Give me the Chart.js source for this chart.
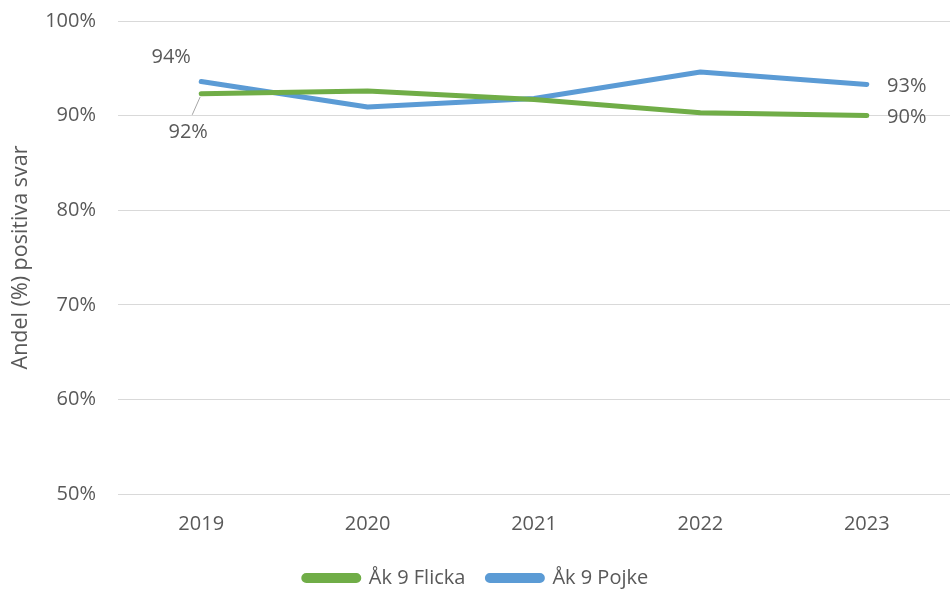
<!DOCTYPE html>
<html lang="sv">
<head>
<meta charset="UTF-8">
<title>Andel positiva svar</title>
<style>
html, body { margin: 0; padding: 0; background: #fff; }
#wrap { width: 950px; height: 589px; }
</style>
</head>
<body>
<div id="wrap"><canvas id="chart" width="950" height="589"></canvas></div>
<script src="https://cdn.jsdelivr.net/npm/chart.js@4.4.1/dist/chart.umd.min.js"></script>
<script>
const years = ['2019', '2020', '2021', '2022', '2023'];
const flicka = [92.3, 92.6, 91.7, 90.3, 90.0];
const pojke = [93.6, 90.9, 91.8, 94.6, 93.3];
const yTicks = [50, 60, 70, 80, 90, 100];

// which points carry a value label, and where it sits relative to the point
const labelSpots = {
  0: { 0: { dx: -13, dy: 38, leader: true }, 4: { dx: 40, dy: 2 } },
  1: { 0: { dx: -30, dy: -24 }, 4: { dx: 40, dy: 2 } }
};

const font = '"Open Sans", "DejaVu Sans", sans-serif';
const textCol = '#595959';

const pointLabels = {
  id: 'pointLabels',
  afterDatasetsDraw(chart) {
    const ctx = chart.ctx;
    ctx.save();
    ctx.font = '20px ' + font;
    ctx.fillStyle = textCol;
    ctx.textAlign = 'center';
    ctx.textBaseline = 'middle';
    chart.data.datasets.forEach((ds, di) => {
      const spots = labelSpots[di] || {};
      chart.getDatasetMeta(di).data.forEach((pt, i) => {
        const s = spots[i];
        if (!s) return;
        const tx = pt.x + s.dx, ty = pt.y + s.dy;
        if (s.leader) {
          ctx.strokeStyle = '#a6a6a6';
          ctx.lineWidth = 1;
          ctx.beginPath();
          ctx.moveTo(pt.x - 1, pt.y + 3);
          ctx.lineTo(pt.x - 9, pt.y + 21);
          ctx.stroke();
        }
        ctx.fillText(Math.round(ds.data[i]) + '%', tx, ty);
      });
    });
    ctx.restore();
  }
};

new Chart(document.getElementById('chart'), {
  type: 'line',
  data: {
    labels: years,
    datasets: [
      { label: 'Åk 9 Flicka', data: flicka, borderColor: '#70ad47', backgroundColor: '#70ad47',
        borderWidth: 5, pointRadius: 0, borderCapStyle: 'round', borderJoinStyle: 'round', fill: false, tension: 0 },
      { label: 'Åk 9 Pojke', data: pojke, borderColor: '#5b9bd5', backgroundColor: '#5b9bd5',
        borderWidth: 5, pointRadius: 0, borderCapStyle: 'round', borderJoinStyle: 'round', fill: false, tension: 0 }
    ]
  },
  options: {
    responsive: false,
    animation: false,
    layout: { padding: { top: 21, right: 0, left: 2, bottom: -9 } },
    plugins: {
      tooltip: { enabled: false },
      legend: {
        position: 'bottom',
        labels: {
          color: textCol,
          font: { size: 20, family: font },
          boxWidth: 55,
          boxHeight: 5,
          useBorderRadius: true,
          borderRadius: 2.5,
          padding: 22
        }
      }
    },
    scales: {
      x: {
        offset: true,
        grid: { display: false },
        border: { display: false },
        ticks: { color: textCol, font: { size: 20, family: font }, padding: 10 }
      },
      y: {
        min: 50,
        max: 100,
        afterBuildTicks(scale) { scale.ticks = yTicks.map(v => ({ value: v })); },
        afterFit(scale) { scale.width = 116; scale.paddingTop = 0; },
        grid: { color: '#d9d9d9', lineWidth: 1, drawTicks: false },
        border: { display: false },
        ticks: { color: textCol, font: { size: 20, family: font }, padding: 22,
          callback: v => v + '%' },
        title: { display: true, text: 'Andel (%) positiva svar', color: textCol,
          font: { size: 21.5, family: font }, padding: { top: 6, bottom: 4 } }
      }
    }
  },
  plugins: [pointLabels]
});
</script>
</body>
</html>
